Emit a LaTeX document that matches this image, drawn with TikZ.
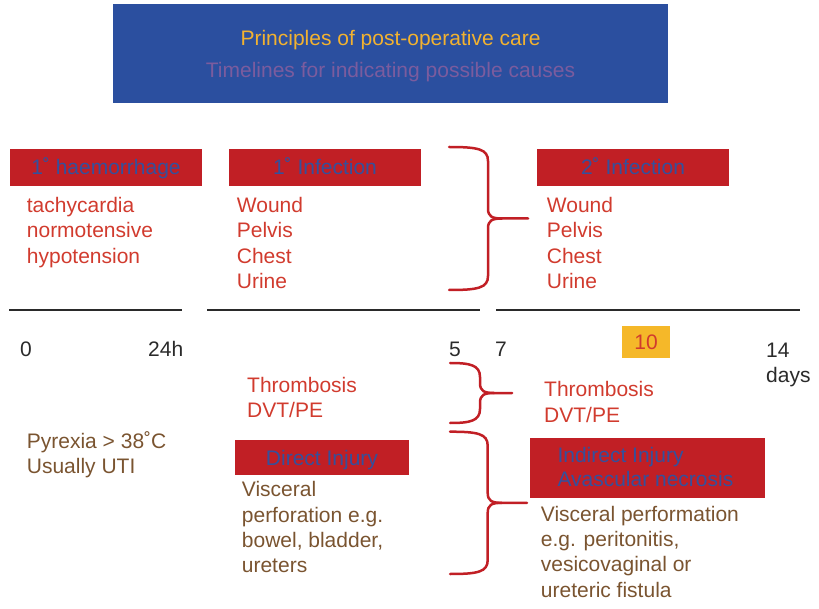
\documentclass[tikz,border=0pt]{standalone}
\usepackage{fontspec}
\setmainfont{Liberation Sans}

\definecolor{titleblue}{HTML}{2B4F9F}
\definecolor{titleyellow}{HTML}{F2B230}
\definecolor{titlepurple}{HTML}{7B5C9E}
\definecolor{boxred}{HTML}{C11F25}
\definecolor{headblue}{HTML}{34509C}
\definecolor{itemred}{HTML}{D13B2E}
\definecolor{notebrown}{HTML}{7A5430}
\definecolor{tenyellow}{HTML}{F5B829}
\definecolor{axisgray}{HTML}{2A2A2A}

% left x, top y, bottom y, spine x, tip x
\newcommand{\sidebrace}[5]{%
  \pgfmathsetmacro{\bmid}{(#2+#3)/2}
  \draw[brace] (#1,#2) .. controls (#4-10,#2) and (#4,#2+2) .. (#4,#2+14)
    -- (#4,\bmid-10) .. controls (#4,\bmid-2) and (#4+4,\bmid) .. (#4+14,\bmid)
    -- (#5,\bmid);
  \draw[brace] (#4+14,\bmid) .. controls (#4+4,\bmid) and (#4,\bmid+2) .. (#4,\bmid+10)
    -- (#4,#3-14) .. controls (#4,#3-2) and (#4-10,#3) .. (#1,#3);
}

\begin{document}
\begin{tikzpicture}[x=1pt,y=-1pt,
  every node/.style={inner sep=0pt,font=\fontsize{21}{25.3}\selectfont},
  title/.style={fill=titleblue,minimum width=555pt,minimum height=99pt},
  head/.style={fill=boxred,text=headblue,minimum height=36.5pt,text height=15pt,text depth=0pt},
  list/.style={anchor=base west,align=left,text=itemred},
  note/.style={anchor=base west,align=left,text=notebrown},
  tick/.style={anchor=base west,align=left,text=axisgray},
  axis/.style={line width=2pt,draw=axisgray},
  brace/.style={line width=2.5pt,draw=boxred,line cap=round}]

\useasboundingbox (0,0) rectangle (819,609);

% heading
\node[title] (title) at (390.5,53.5) {};
\node[text=titleyellow,anchor=base] (main) at (390.5,46) {Principles of post-operative care};
\node[text=titlepurple,anchor=base] (sub) at (390.5,78) {Timelines for indicating possible causes};

% first week (list nodes sit on the baseline of their last line)
\node[head,minimum width=192pt] (haem) at (106,167.5) {1˚ haemorrhage};
\node[head,minimum width=192pt] (inf1) at (325,167.5) {1˚ Infection};
\node[head,minimum width=192pt] (inf2) at (633,167.5) {2˚ Infection};
\node[list] (signs) at (26.7,263.1) {tachycardia\\normotensive\\hypotension};
\node[list] (sites1) at (236.7,288.4) {Wound\\Pelvis\\Chest\\Urine};
\node[list] (sites2) at (546.7,288.4) {Wound\\Pelvis\\Chest\\Urine};
\sidebrace{449}{147}{290}{488}{528}

% timeline
\draw[axis] (9,310) -- (182,310);
\draw[axis] (207,310) -- (480,310);
\draw[axis] (496,310) -- (800,310);
\node[tick] (t0) at (20,357) {0};
\node[tick] (t24) at (148,357) {24h};
\node[tick] (t5) at (449,357) {5};
\node[tick] (t7) at (495,357) {7};
\node[fill=tenyellow,text=itemred,minimum width=48pt,minimum height=32pt,
  text height=15pt,text depth=0pt] (t10) at (646,342) {10};
\node[tick] (t14) at (766,382.3) {14\\days};

% thrombosis
\node[list] (thr1) at (247,417.8) {Thrombosis\\DVT/PE};
\node[list,font=\fontsize{21}{26}\selectfont] (thr2) at (544,422.7) {Thrombosis\\DVT/PE};
\sidebrace{450}{363}{423}{480}{512}

% injuries
\node[note] (pyrexia) at (26.7,473.6) {Pyrexia > 38˚C\\Usually UTI};
\node[head,minimum width=174pt,minimum height=35pt] (direct) at (322,457.5) {Direct Injury};
\node[note] (dirtext) at (241.7,572.6) {Visceral\\perforation e.g.\\bowel, bladder,\\ureters};
\node[fill=boxred,minimum width=235pt,minimum height=59.4pt] (indirect) at (647.5,468) {};
\node[anchor=base west,align=left,text=headblue,font=\fontsize{21}{24}\selectfont]
  (indhead) at (557.3,486.7) {Indirect Injury\\Avascular necrosis};
\node[note] (indtext) at (540.7,597.2) {Visceral performation\\e.g. peritonitis,\\vesicovaginal or\\ureteric fistula};
\sidebrace{450}{431.7}{574}{487.7}{527}
\end{tikzpicture}
\end{document}
